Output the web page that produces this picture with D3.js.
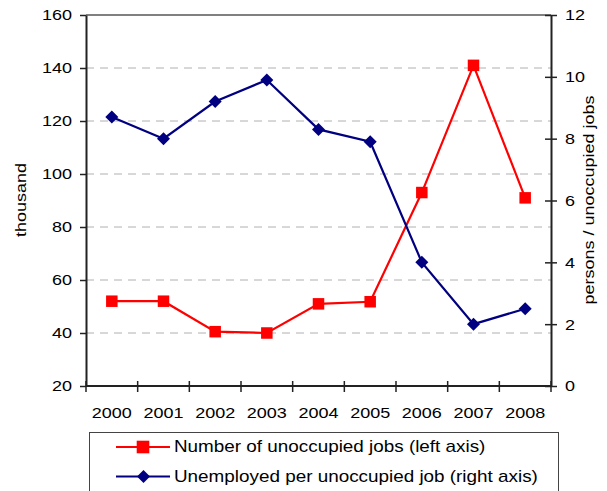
<!DOCTYPE html>
<html>
<head>
<meta charset="utf-8">
<script src="https://cdn.jsdelivr.net/npm/d3@7"></script>
<style>
  html, body { margin: 0; padding: 0; background: #fff; }
  text { font-family: "Liberation Sans", Arial, sans-serif; fill: #000; }
</style>
</head>
<body>
<svg id="chart" width="607" height="491"></svg>
<script>
// Years on the category axis
const years = ["2000", "2001", "2002", "2003", "2004", "2005", "2006", "2007", "2008"];
// Number of unoccupied jobs, thousand (left axis)
const unoccupiedJobs = [52, 52, 40.5, 40, 51, 51.8, 93, 141, 91];
// Unemployed persons per unoccupied job (right axis)
const unemployedPerJob = [8.7, 8.0, 9.2, 9.9, 8.3, 7.9, 4.0, 2.0, 2.5];
// Tick values
const leftTicks = [20, 40, 60, 80, 100, 120, 140, 160];
const rightTicks = [0, 2, 4, 6, 8, 10, 12];
// Legend labels
const seriesNames = ["Number of unoccupied jobs (left axis)", "Unemployed per unoccupied job (right axis)"];

const svg = d3.select("#chart");
const m = { left: 86, right: 551, top: 15, bottom: 386 };
const SX = 1.2; // horizontal stretch applied to labels

const x = d3.scaleBand().domain(years).range([m.left, m.right]);
const yL = d3.scaleLinear().domain([20, 160]).range([m.bottom, m.top]);
const yR = d3.scaleLinear().domain([0, 12]).range([m.bottom, m.top]);
const cx = d => x(d) + x.bandwidth() / 2;

// Dashed horizontal gridlines from the left axis
svg.append("g").selectAll("line")
  .data(leftTicks.filter(t => t > 20 && t < 160))
  .join("line")
  .attr("x1", m.left).attr("x2", m.right)
  .attr("y1", d => yL(d)).attr("y2", d => yL(d))
  .attr("stroke", "#b0b0b0").attr("stroke-width", 1)
  .attr("stroke-dasharray", "8,6");

// Top border of the plot area
svg.append("line")
  .attr("x1", m.left).attr("x2", m.right)
  .attr("y1", m.top).attr("y2", m.top)
  .attr("stroke", "#808080").attr("stroke-width", 2);

function styleAxis(g) {
  g.select(".domain").attr("stroke", "#222").attr("stroke-width", 2);
  g.selectAll(".tick line").attr("stroke", "#222").attr("stroke-width", 1.5);
  g.selectAll(".tick text").attr("font-size", 15);
}

// Left axis
const gL = svg.append("g").attr("transform", `translate(${m.left},0)`)
  .call(d3.axisLeft(yL).tickValues(leftTicks).tickSize(6).tickSizeOuter(0).tickPadding(0));
styleAxis(gL);
gL.selectAll(".tick text").attr("text-anchor", "end").attr("x", 0).attr("dy", null)
  .attr("dominant-baseline", "central")
  .attr("transform", `translate(-14,0) scale(${SX},1)`);

// Right axis (tick marks cross the axis line)
const gR = svg.append("g").attr("transform", `translate(${m.right},0)`)
  .call(d3.axisRight(yR).tickValues(rightTicks).tickSize(6).tickSizeOuter(0).tickPadding(0));
styleAxis(gR);
gR.selectAll(".tick line").attr("x1", -6).attr("x2", 6);
gR.selectAll(".tick text").attr("text-anchor", "start").attr("x", 0).attr("dy", null)
  .attr("dominant-baseline", "central")
  .attr("transform", `translate(14,0) scale(${SX},1)`);

// Bottom axis: ticks at category boundaries, labels at centres
const gB = svg.append("g").attr("transform", `translate(0,${m.bottom})`);
gB.append("line").attr("x1", m.left).attr("x2", m.right).attr("y1", 0).attr("y2", 0)
  .attr("stroke", "#222").attr("stroke-width", 2);
gB.selectAll(".bt").data(years.concat(["end"])).join("line")
  .attr("x1", (d, i) => m.left + i * x.bandwidth())
  .attr("x2", (d, i) => m.left + i * x.bandwidth())
  .attr("y1", -5).attr("y2", 6)
  .attr("stroke", "#222").attr("stroke-width", 1.5);
gB.selectAll("text").data(years).join("text")
  .attr("text-anchor", "middle").attr("font-size", 15)
  .attr("transform", d => `translate(${cx(d)},32) scale(${SX},1)`)
  .text(d => d);

// Axis titles
svg.append("text").attr("text-anchor", "middle").attr("font-size", 15)
  .attr("transform", `translate(26,200) rotate(-90) scale(${SX},1)`)
  .text("thousand");
svg.append("text").attr("text-anchor", "middle").attr("font-size", 15)
  .attr("transform", `translate(594,200) rotate(-90) scale(${SX},1)`)
  .text("persons / unoccupied jobs");

// Series lines
const lineL = d3.line().x((d, i) => cx(years[i])).y(d => yL(d));
const lineR = d3.line().x((d, i) => cx(years[i])).y(d => yR(d));

svg.append("path").datum(unoccupiedJobs).attr("d", lineL)
  .attr("fill", "none").attr("stroke", "#ff0000").attr("stroke-width", 2.2);
svg.append("path").datum(unemployedPerJob).attr("d", lineR)
  .attr("fill", "none").attr("stroke", "#000080").attr("stroke-width", 2.2);

const sq = 11.5, dm = 6.5;
svg.append("g").selectAll("rect").data(unoccupiedJobs).join("rect")
  .attr("x", (d, i) => cx(years[i]) - sq / 2).attr("y", d => yL(d) - sq / 2)
  .attr("width", sq).attr("height", sq).attr("fill", "#ff0000");
svg.append("g").selectAll("path").data(unemployedPerJob).join("path")
  .attr("transform", (d, i) => `translate(${cx(years[i])},${yR(d)})`)
  .attr("d", `M0,${-dm}L${dm},0L0,${dm}L${-dm},0Z`).attr("fill", "#000080");

// Legend
const lg = svg.append("g");
lg.append("rect").attr("x", 89.5).attr("y", 432.5).attr("width", 469).attr("height", 70)
  .attr("fill", "#fff").attr("stroke", "#444").attr("stroke-width", 1);
const legendRows = [
  { name: seriesNames[0], color: "#ff0000", shape: "square", y: 447 },
  { name: seriesNames[1], color: "#000080", shape: "diamond", y: 476.5 }
];
legendRows.forEach(r => {
  lg.append("line").attr("x1", 116).attr("x2", 170).attr("y1", r.y).attr("y2", r.y)
    .attr("stroke", r.color).attr("stroke-width", 2.2);
  if (r.shape === "square") {
    lg.append("rect").attr("x", 143 - 6.3).attr("y", r.y - 6.3).attr("width", 12.6).attr("height", 12.6)
      .attr("fill", r.color);
  } else {
    lg.append("path").attr("transform", `translate(143.5,${r.y})`)
      .attr("d", "M0,-6.5L6.5,0L0,6.5L-6.5,0Z").attr("fill", r.color);
  }
  lg.append("text").attr("font-size", 16).attr("dominant-baseline", "central")
    .attr("transform", `translate(174,${r.y}) scale(1.18,1)`).text(r.name);
});
</script>
</body>
</html>
